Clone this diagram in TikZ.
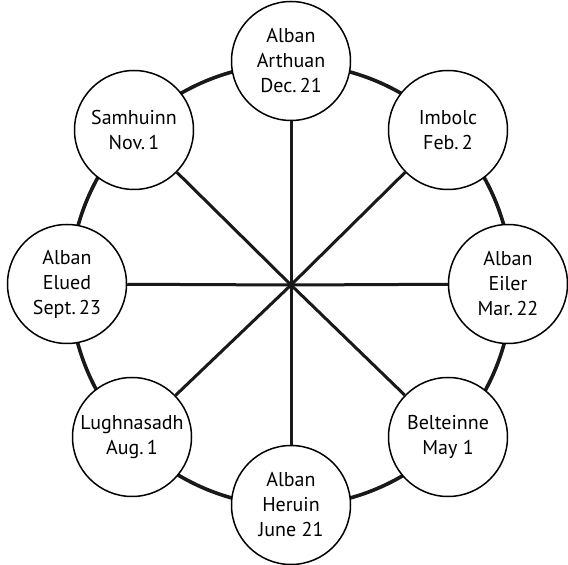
\documentclass[tikz,border=0pt]{standalone}
\usepackage{fontspec}
\setmainfont{PT Sans}
\begin{document}
\begin{tikzpicture}[x=1pt,y=1pt,
  season/.style={circle,draw=black,line width=1.5pt,fill=white,minimum size=119pt,inner sep=0pt,
    align=center,font=\fontsize{20}{25}\selectfont},
  spoke/.style={line width=3pt,draw=black!90},
  rim/.style={line width=3.6pt,draw=black!90}]
\useasboundingbox (0,0) rectangle (568,565);
\coordinate (hub) at (291,280);
\draw[rim] (hub) circle (221);
\node[season] (arthuan) at (291,504) {Alban\\Arthuan\\Dec.\,21};
\node[season] (imbolc) at (448,435) {Imbolc\\Feb.\,2};
\node[season] (eiler) at (508,281) {Alban\\Eiler\\Mar.\,22};
\node[season] (belteinne) at (448,128) {Belteinne\\May 1};
\node[season] (heruin) at (291,60) {Alban\\Heruin\\June 21};
\node[season] (lugh) at (132,128) {Lughnasadh\\Aug.\,1};
\node[season] (elued) at (67,281) {Alban\\Elued\\Sept.\,23};
\node[season] (samhuinn) at (134,435) {Samhuinn\\Nov.\,1};
\foreach \n in {arthuan,imbolc,eiler,belteinne,heruin,lugh,elued,samhuinn}
  \draw[spoke] (hub) -- (\n);
\end{tikzpicture}
\end{document}
